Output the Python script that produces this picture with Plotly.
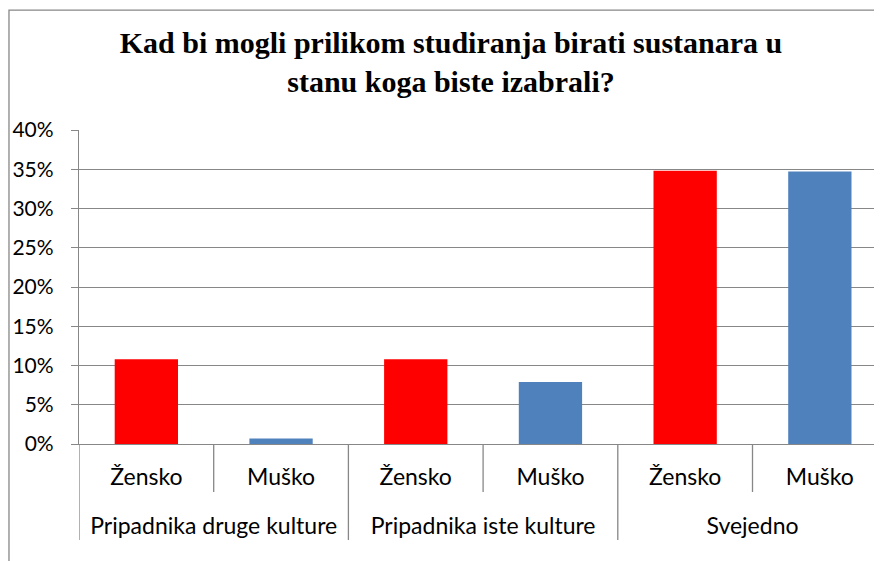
import plotly.graph_objects as go

groups = ["Pripadnika druge kulture", "Pripadnika druge kulture",
          "Pripadnika iste kulture", "Pripadnika iste kulture",
          "Svejedno", "Svejedno"]
genders = ["Žensko", "Muško", "Žensko", "Muško", "Žensko", "Muško"]
values = [0.108, 0.007, 0.108, 0.079, 0.348, 0.347]
gender_colors = {"Žensko": "#FF0000", "Muško": "#4F81BD"}
title_text = "<b>Kad bi mogli prilikom studiranja birati sustanara u<br>stanu koga biste izabrali?</b>"
y_ticks = [0, 0.05, 0.10, 0.15, 0.20, 0.25, 0.30, 0.35, 0.40]

GRAY = "#878787"
FONT = "Lato"

idx = list(range(len(genders)))
group_names = list(dict.fromkeys(groups))
group_centers = [sum(i for i in idx if groups[i] == g) / groups.count(g) for g in group_names]

fig = go.Figure()
fig.add_trace(go.Bar(
    x=idx,
    y=values,
    width=0.47,
    marker=dict(color=[gender_colors[g] for g in genders], line=dict(width=0)),
    hoverinfo="skip",
))
# invisible trace to activate the second (group-label) x axis
fig.add_trace(go.Scatter(x=group_centers, y=[0] * len(group_centers), xaxis="x2",
                         mode="markers", marker=dict(opacity=0), hoverinfo="skip"))

PLOT_H = 314
# category boundaries
for i in range(-1, len(genders)):
    b = i + 0.5
    outer = (i == -1) or (i == len(genders) - 1) or (groups[i] != groups[i + 1])
    fig.add_shape(type="line", xref="x", yref="paper",
                  x0=b, x1=b, y0=0, y1=-(96 if outer else 48) / PLOT_H,
                  line=dict(color=GRAY, width=1.3))

# outer chart border (left and top)
fig.add_shape(type="path", xref="paper", yref="paper",
              path="M -0.0872,-0.5 L -0.0872,1.382 L 1.2,1.382",
              line=dict(color=GRAY, width=1.3))

xr = [-0.5, -0.5 + 803 / 134.7]
fig.update_layout(
    width=874, height=553,
    margin=dict(l=71, r=0, t=122, b=117),
    paper_bgcolor="white", plot_bgcolor="white",
    showlegend=False,
    title=dict(text=title_text, x=443 / 874, xref="container", xanchor="center",
               y=1 - 45 / 553, yref="container", yanchor="top",
               font=dict(family="Liberation Serif", size=30, color="black")),
    font=dict(family=FONT, size=21, color="black"),
    xaxis=dict(
        range=xr, tickvals=idx, ticktext=genders,
        showline=True, linecolor=GRAY, linewidth=1.3,
        ticks="", showgrid=False, zeroline=False,
        ticklabelstandoff=12,
        tickfont=dict(family=FONT, size=23, color="black"),
    ),
    xaxis2=dict(
        range=xr, overlaying="x", side="bottom", anchor="y",
        tickvals=group_centers, ticktext=group_names,
        showline=False, ticks="", showgrid=False, zeroline=False,
        ticklabelstandoff=66,
        tickfont=dict(family=FONT, size=23, color="black"),
    ),
    yaxis=dict(
        range=[0, 0.4], tickvals=y_ticks, tickformat=".0%",
        showline=True, linecolor=GRAY, linewidth=1.3,
        ticks="outside", ticklen=7, tickcolor=GRAY, tickwidth=1.3,
        showgrid=True, gridcolor=GRAY, gridwidth=1.3,
        zeroline=False,
        ticklabelstandoff=13,
        tickfont=dict(family=FONT, size=21, color="black"),
    ),
)

fig.write_html("out.html")
